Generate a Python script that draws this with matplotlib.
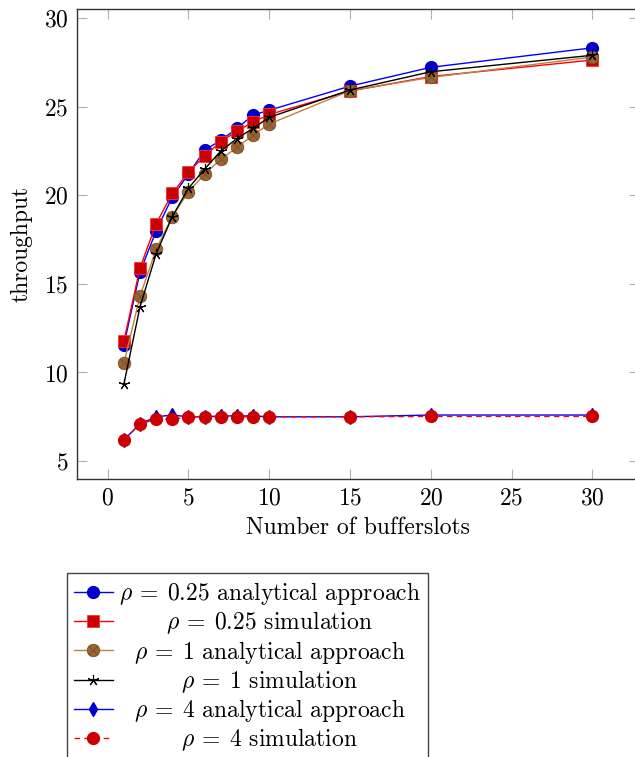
import matplotlib
matplotlib.use("Agg")
import matplotlib.pyplot as plt
from matplotlib.path import Path
import numpy as np

plt.rcParams['font.family'] = 'serif'
plt.rcParams['font.serif'] = ['cmr10', 'DejaVu Serif']
plt.rcParams['mathtext.fontset'] = 'cm'
plt.rcParams['axes.formatter.use_mathtext'] = True
plt.rcParams['axes.unicode_minus'] = False

# ---------------- data ----------------
buffer_slots = [1, 2, 3, 4, 5, 6, 7, 8, 9, 10, 15, 20, 30]
rho025_analytical = [11.55, 15.67, 18.0, 19.9, 21.2, 22.55, 23.1, 23.77, 24.53, 24.8, 26.16, 27.22, 28.32]
rho025_simulation = [11.77, 15.9, 18.4, 20.1, 21.3, 22.23, 23.02, 23.62, 24.13, 24.56, 25.88, 26.7, 27.63]
rho1_analytical = [10.51, 14.31, 16.96, 18.8, 20.2, 21.2, 22.03, 22.7, 23.4, 24.02, 25.9, 26.65, 27.8]
rho1_simulation = [9.33, 13.71, 16.7, 18.8, 20.4, 21.48, 22.5, 23.2, 23.78, 24.4, 25.94, 26.97, 27.9]
rho4_analytical = [6.2, 7.1, 7.5, 7.6, 7.5, 7.5, 7.55, 7.55, 7.55, 7.5, 7.5, 7.6, 7.6]
rho4_simulation = [6.19, 7.09, 7.37, 7.36, 7.5, 7.5, 7.5, 7.5, 7.5, 7.5, 7.5, 7.52, 7.52]

labels = [r'$\rho\:=\:0.25$ analytical approach',
          r'$\rho\:=\:0.25$ simulation',
          r'$\rho\:=\:1$ analytical approach',
          r'$\rho\:=\:1$ simulation',
          r'$\rho\:=\:4$ analytical approach',
          r'$\rho\:=\:4$ simulation']

x_ticks = [0, 5, 10, 15, 20, 25, 30]
y_ticks = [5, 10, 15, 20, 25, 30]

FS = 17

# otimes marker
circ = Path.unit_circle()
s = 0.7071
cross = Path([(-s, -s), (s, s), (-s, s), (s, -s)],
             [Path.MOVETO, Path.LINETO, Path.MOVETO, Path.LINETO])
otimes = Path.make_compound_path(circ, cross)

fig = plt.figure(figsize=(6.35, 7.57), dpi=100)
ax = fig.add_axes([77/635, 1 - 479/757, (639.3 - 77)/635, (479 - 9)/757])

lw = 1.0
ax.plot(buffer_slots, rho025_analytical, color='blue', lw=lw, marker='o', ms=8.5,
        mfc='#0000cc', mec='#0000cc', label=labels[0])
ax.plot(buffer_slots, rho025_simulation, color='red', lw=lw, marker='s', ms=8.5,
        mfc='#cc0000', mec='#ff3333', mew=0.6, label=labels[1])
ax.plot(buffer_slots, rho1_analytical, color='#bf8040', lw=lw, marker=otimes, ms=9,
        mfc='#996633', mec='#7a4f26', mew=0.6, label=labels[2])
ax.plot(buffer_slots, rho1_simulation, color='black', lw=lw, marker=(5, 2, 0), ms=8,
        mec='black', mew=0.8, label=labels[3])
ax.plot(buffer_slots, rho4_analytical, color='blue', lw=lw, marker='d', ms=7,
        mfc='#0000cc', mec='#0000cc', label=labels[4])
ax.plot(buffer_slots, rho4_simulation, color='red', lw=lw, ls=(0, (4, 3)), marker='o', ms=8.5,
        mfc='#cc0000', mec='#cc0000', label=labels[5])

ax.set_xlim(-1.9, 32.9)
ax.set_ylim(3.99, 30.51)
ax.set_xticks(x_ticks)
ax.set_yticks(y_ticks)
ax.tick_params(direction='in', length=7, width=0.8, color='#b0b0b0',
               top=True, right=True, labelsize=FS, pad=6)
for sp in ax.spines.values():
    sp.set_color('#333333')
    sp.set_linewidth(1.0)

ax.set_xlabel('Number of bufferslots', fontsize=FS, labelpad=5)
ax.set_ylabel('throughput', fontsize=FS, labelpad=8)

leg = ax.legend(loc='upper left', bbox_to_anchor=(66.7/635, 1 - 573/757),
                bbox_transform=fig.transFigure, borderaxespad=0, fontsize=FS,
                frameon=True, fancybox=False, framealpha=1, edgecolor='#444444',
                handlelength=1.65, handletextpad=0.25, labelspacing=0.1,
                borderpad=0.3)
leg.get_frame().set_linewidth(1.0)

fig.canvas.draw()
renderer = fig.canvas.get_renderer()
texts = leg.get_texts()
widths = [t.get_window_extent(renderer).width for t in texts]
wmax = max(widths)
for t, w in zip(texts, widths):
    t.set_position(((wmax - w) / 2, 0))

fig.savefig('out.png', dpi=100)
